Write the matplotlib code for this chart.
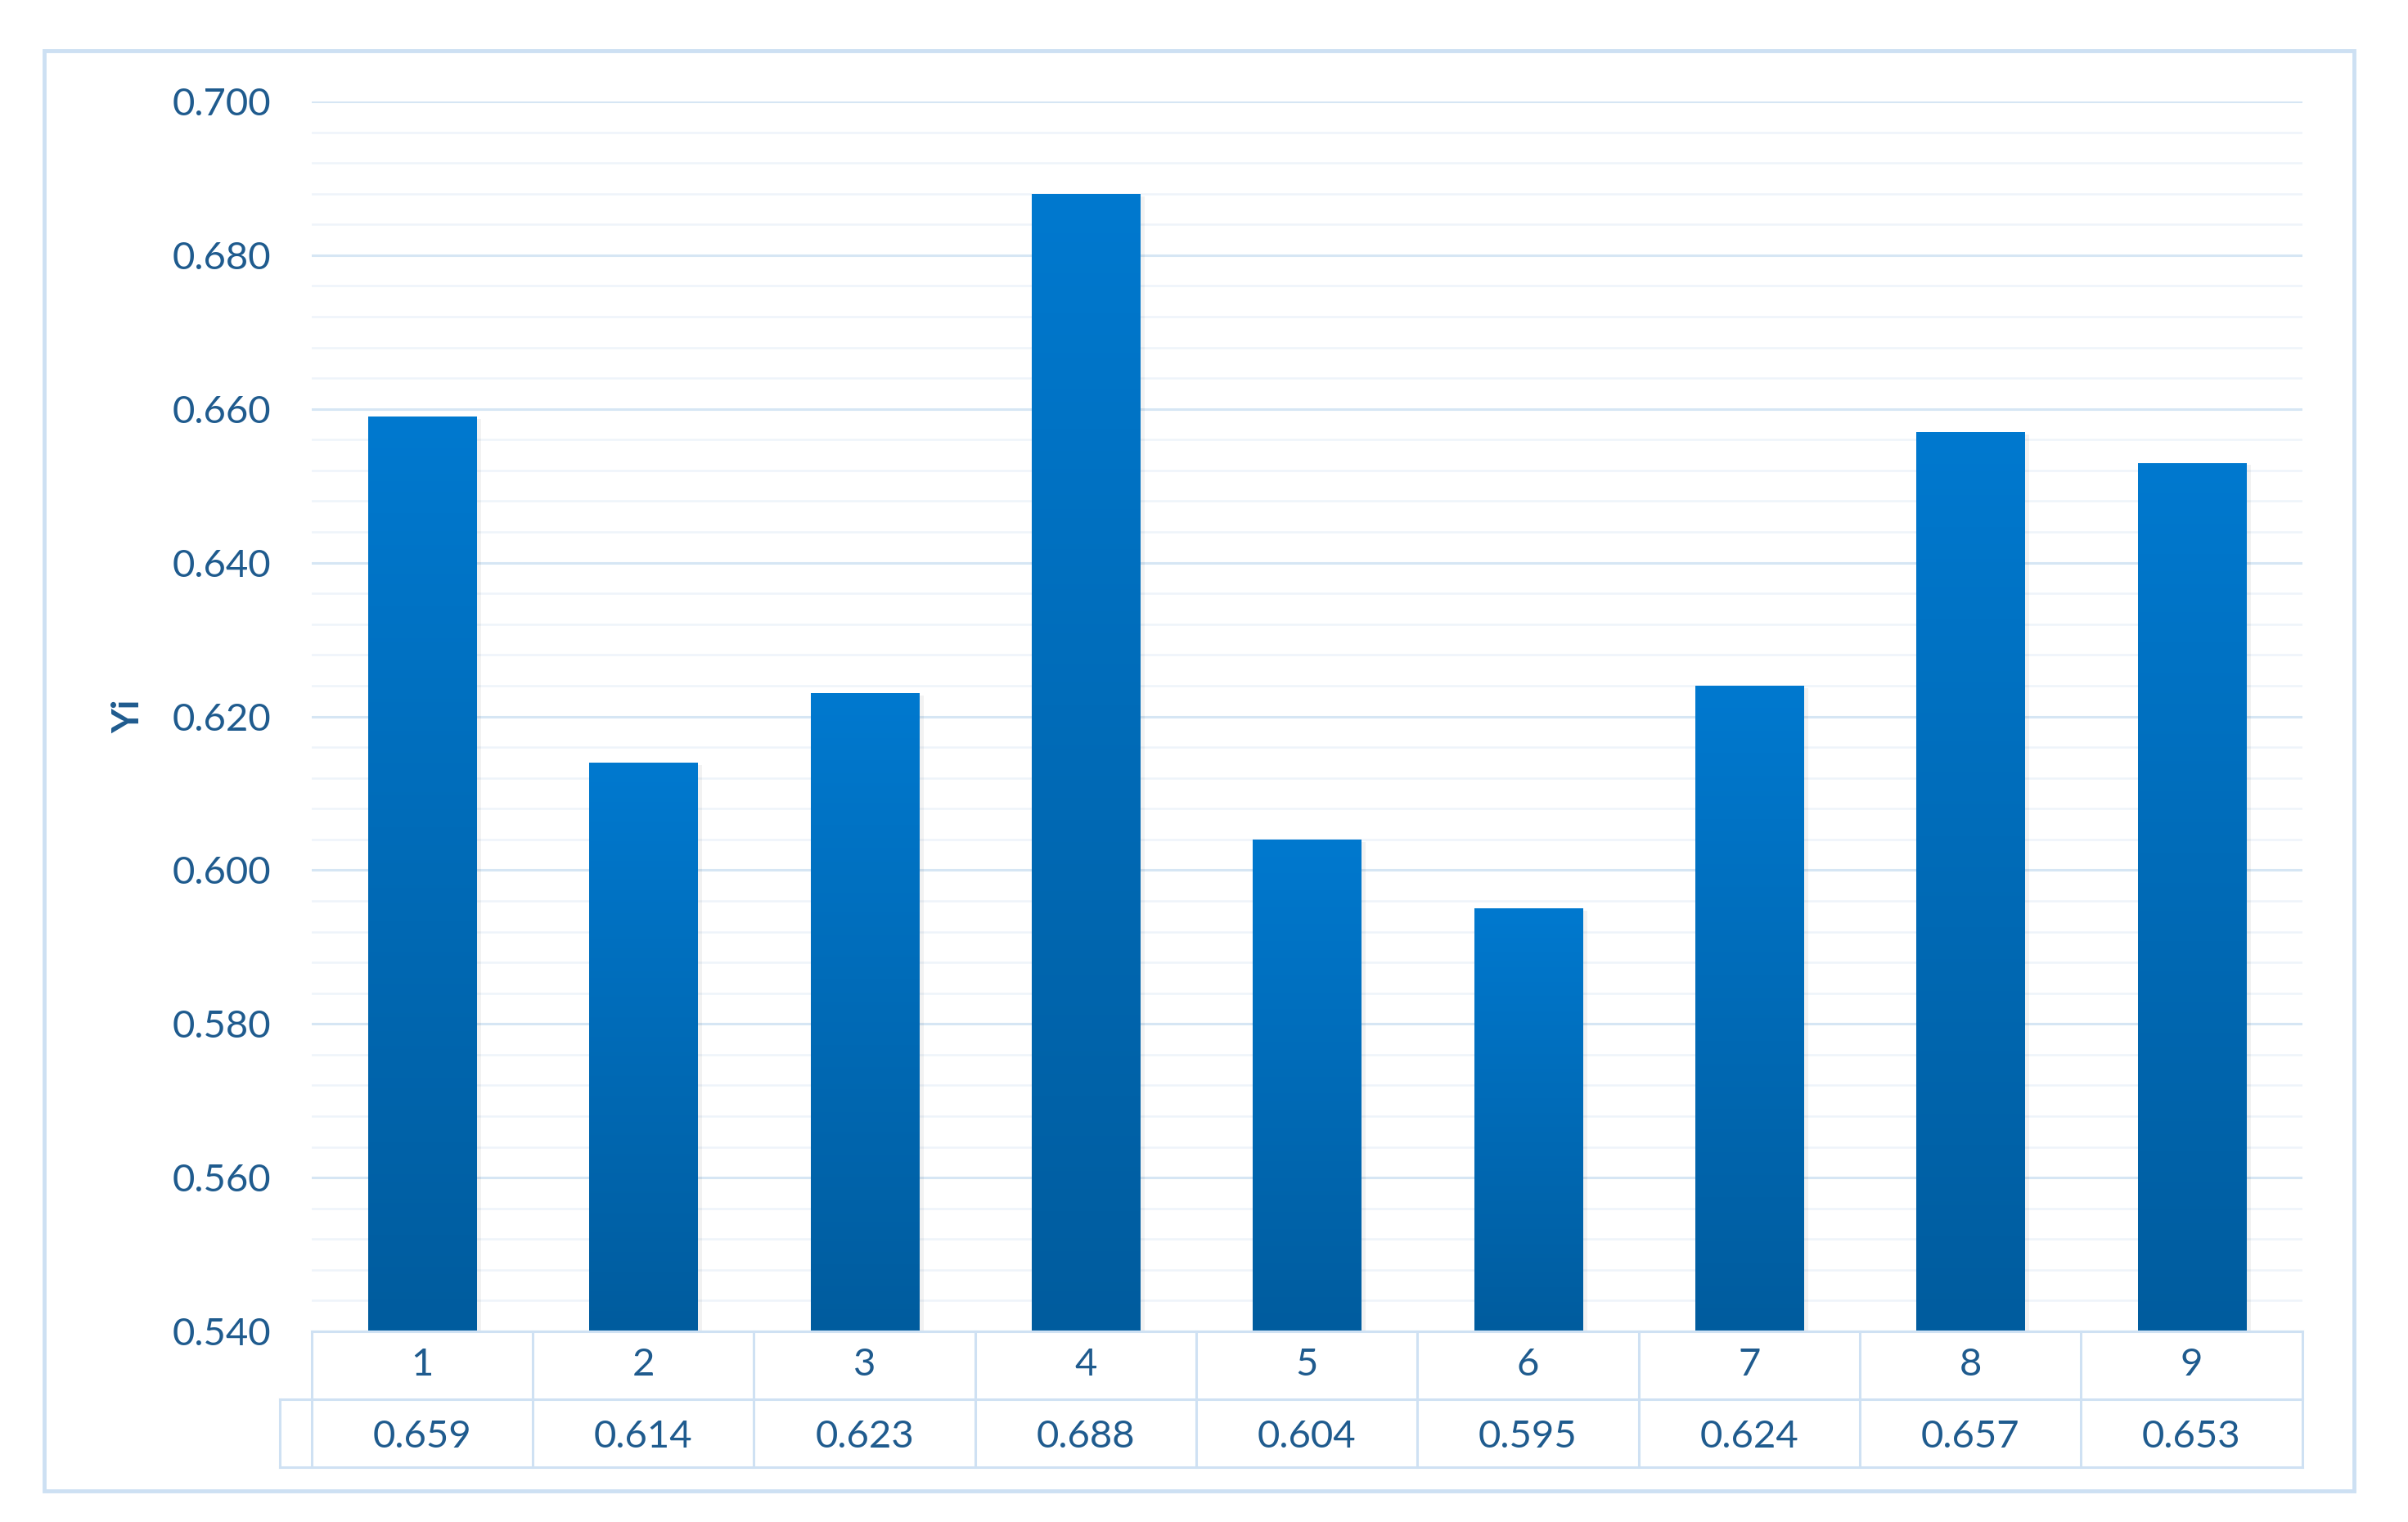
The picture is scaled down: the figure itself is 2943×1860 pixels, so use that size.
import numpy as np
import matplotlib.pyplot as plt
from matplotlib.patches import Rectangle
from matplotlib.colors import LinearSegmentedColormap
from matplotlib.ticker import MultipleLocator

plt.rcParams['font.family'] = ['Lato', 'DejaVu Sans']

categories = ['1', '2', '3', '4', '5', '6', '7', '8', '9']
yi_values = [0.659, 0.614, 0.623, 0.688, 0.604, 0.595, 0.624, 0.657, 0.653]
y_min, y_max = 0.540, 0.700

txt_col = '#1f5b8e'
grid_major = '#d6e6f4'
grid_minor = '#eef4fa'
line_col = '#cfe1f3'
grad = LinearSegmentedColormap.from_list('bar', ['#005c9e', '#0079cf'])

fig = plt.figure(figsize=(29.43, 18.6), dpi=100)
ax = fig.add_axes([0.1295, 0.1253, 0.8267, 0.808])

x = np.arange(len(categories))
bars = ax.bar(x, yi_values, width=0.49, bottom=0, color='none', lw=0, zorder=3)
ax.set_xlim(-0.5, len(categories) - 0.5)
ax.set_ylim(y_min, y_max)

# vertical gradient inside each bar
g = np.linspace(0, 1, 256).reshape(-1, 1)
for b in bars:
    x0, w = b.get_x(), b.get_width()
    top = b.get_height()
    # soft shadow
    ax.add_patch(Rectangle((x0 + 0.012, y_min), w + 0.008, top - y_min - 0.0003,
                           color='#000000', alpha=0.05, lw=0, zorder=2))
    im = ax.imshow(g, cmap=grad, aspect='auto', origin='lower',
                   extent=(x0, x0 + w, y_min, top), zorder=3)
    clip = Rectangle((x0, y_min), w, top - y_min, transform=ax.transData)
    im.set_clip_path(clip)

ax.set_xlim(-0.5, len(categories) - 0.5)
ax.set_ylim(y_min, y_max)

ax.yaxis.set_major_locator(MultipleLocator(0.02))
ax.yaxis.set_minor_locator(MultipleLocator(0.004))
ax.grid(which='major', axis='y', color=grid_major, lw=2.2, zorder=0)
ax.grid(which='minor', axis='y', color=grid_minor, lw=1.8, zorder=0)
ax.yaxis.set_major_formatter(plt.FuncFormatter(lambda v, p: f'{v:.3f}'))
ax.tick_params(axis='y', which='both', length=0, pad=36, labelsize=34, labelcolor=txt_col)
ax.set_xticks([])
for s in ax.spines.values():
    s.set_visible(False)
ax.set_ylabel('Yi', fontsize=33, fontweight='bold', color=txt_col)
ax.yaxis.set_label_coords(-0.0835, 0.5)

# data table under the axes
n = len(categories)
ext = 0.144
tab = fig.add_axes([0.1162, 0.036, 0.956 - 0.1162, 0.1253 - 0.036])
tab.set_xlim(-0.5 - ext, n - 0.5)
tab.set_ylim(0, 2)
tab.axis('off')
lw = 2.2
tab.plot([-0.5, n - 0.5], [2, 2], color=line_col, lw=lw, clip_on=False)
for yy in (1, 0):
    tab.plot([-0.5 - ext, n - 0.5], [yy, yy], color=line_col, lw=lw, clip_on=False)
for k in range(n + 1):
    tab.plot([k - 0.5, k - 0.5], [0, 2], color=line_col, lw=lw, clip_on=False)
tab.plot([-0.5 - ext, -0.5 - ext], [0, 1], color=line_col, lw=lw, clip_on=False)
for i, (c, v) in enumerate(zip(categories, yi_values)):
    tab.text(i, 1.5, c, ha='center', va='center', fontsize=34, color=txt_col)
    tab.text(i, 0.45, f'{v:.3f}', ha='center', va='center', fontsize=34, color=txt_col)

# outer chart border
fig.patches.append(Rectangle((54 / 2943, 1 - 1822 / 1860), (2877 - 54) / 2943,
                             (1822 - 62) / 1860, transform=fig.transFigure,
                             fill=False, ec='#cde0f3', lw=3.5))

fig.savefig('out.png', dpi=100, facecolor='white')
